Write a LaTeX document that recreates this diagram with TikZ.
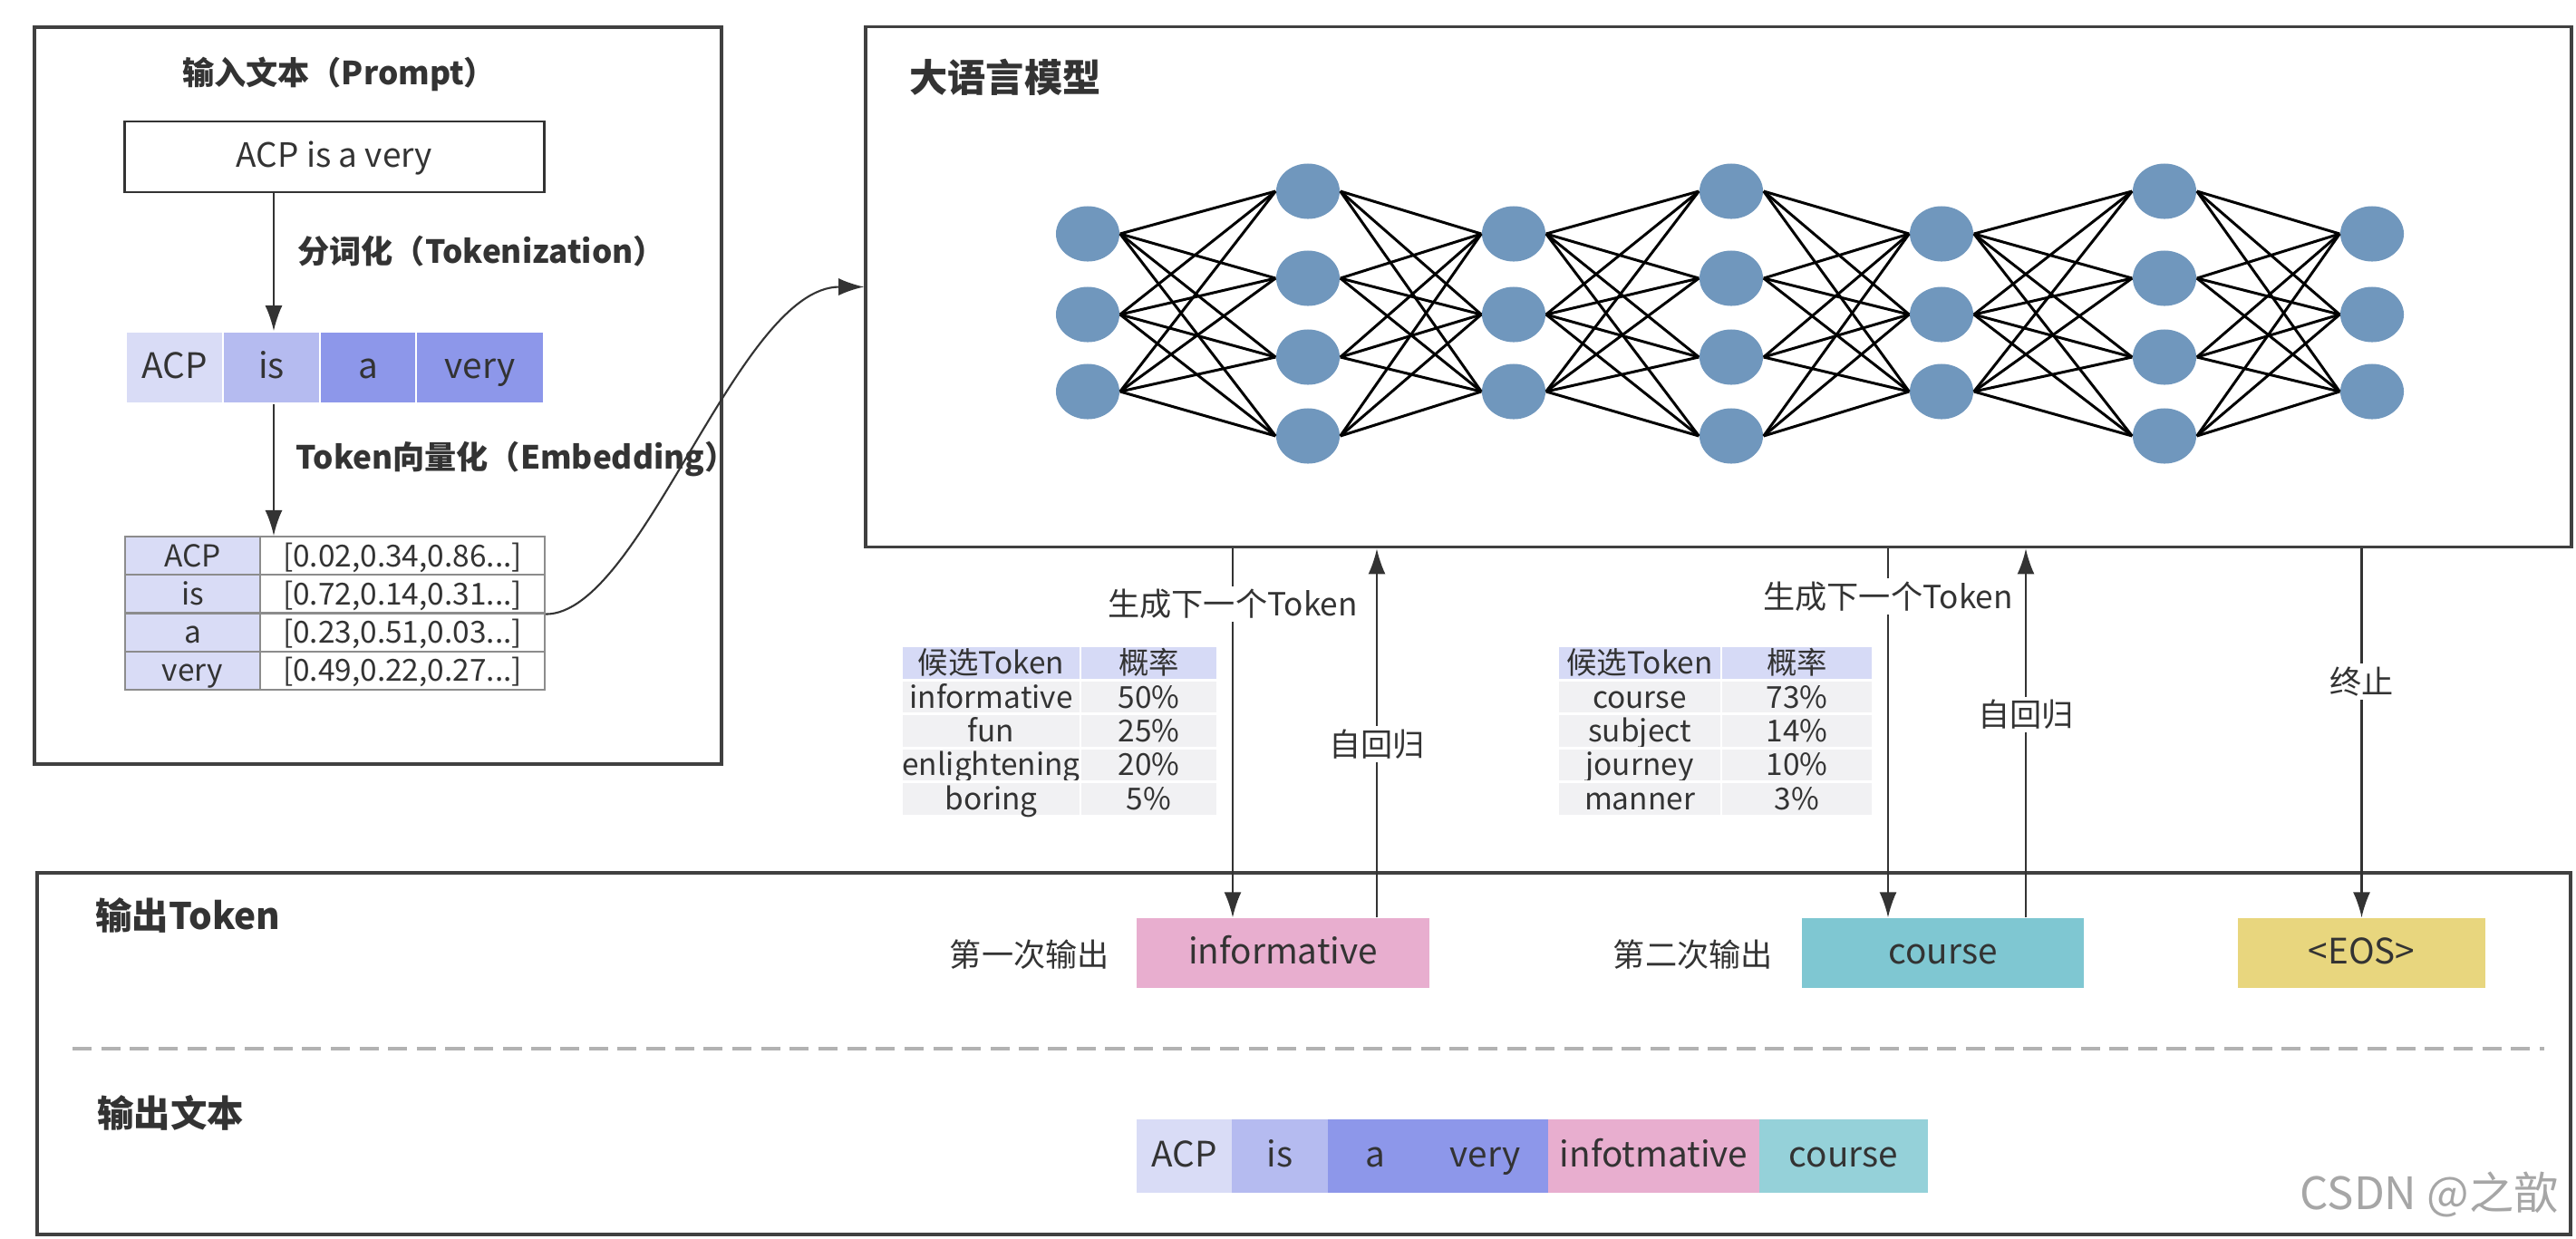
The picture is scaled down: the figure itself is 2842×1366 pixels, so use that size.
\documentclass[tikz,border=0pt]{standalone}
\usepackage{fontspec}
\setmainfont{Noto Sans CJK SC}
\usetikzlibrary{arrows.meta, shapes.geometric}
\definecolor{tokA}{HTML}{D9DCF6}
\definecolor{tokB}{HTML}{B5BBF0}
\definecolor{tokC}{HTML}{8D97EA}
\definecolor{pinkout}{HTML}{E8AECF}
\definecolor{tealout}{HTML}{7FC7D2}
\definecolor{teallight}{HTML}{95D1D9}
\definecolor{yellowout}{HTML}{E8D67E}
\definecolor{neuronblue}{HTML}{7097BD}
\definecolor{hdr}{HTML}{D6DAF6}
\definecolor{rowgray}{HTML}{F1F1F3}
\definecolor{txt}{HTML}{333333}
\tikzset{
  box/.style = {draw=black!75, line width=1pt},
  cell/.style = {inner sep=0pt, text=txt, text height=0.84em, text depth=0.16em, font=\fontsize{10.5}{12}\selectfont},
  ecell/.style = {cell, draw=black!45, line width=0.6pt, minimum height=0.4225cm, font=\fontsize{9.5}{11}\selectfont},
  tcell/.style = {cell, draw=white, line width=0.8pt, minimum height=0.374cm, font=\fontsize{9.5}{11}\selectfont},
  arr/.style = {-{Latex[length=0.28cm, width=0.19cm]}, line width=0.6pt, black!80},
  lab/.style = {fill=white, inner sep=1pt, text=txt, font=\fontsize{10}{12}\selectfont},
  title/.style = {text=txt, font=\fontsize{11.5}{13}\selectfont\bfseries},
  neuron/.style = {ellipse, fill=neuronblue, minimum width=0.70cm, minimum height=0.61cm, inner sep=0pt},
  edge/.style = {line width=0.85pt, black}
}
\begin{document}
\begin{tikzpicture}[x=0.01cm, y=-0.01cm]
\useasboundingbox[fill=white] (0,0) rectangle (2842,1366);

\draw[box] (38,30) rectangle (796,843);
\node[title, font=\fontsize{10}{12}\selectfont\bfseries] (intitle) at (374,82) {输入文本（Prompt）};
\node[cell, draw=black!80, line width=0.8pt, minimum width=4.62cm, minimum height=0.78cm] (prompt) at (369,173) {ACP is a very};
\foreach \x/\w/\c/\t [count=\i] in {192.5/1.07/tokA/ACP, 299.5/1.07/tokB/is, 406/1.06/tokC/a, 529.5/1.41/tokC/very}
  \node[cell, fill=\c, draw=white, line width=0.5pt, minimum width=\w cm, minimum height=0.79cm, font=\fontsize{11}{13}\selectfont] (t\i) at (\x,405.5) {\t};
\foreach \k/\v [count=\i] in {ACP/{[0.02,0.34,0.86...]}, is/{[0.72,0.14,0.31...]}, a/{[0.23,0.51,0.03...]}, very/{[0.49,0.22,0.27...]}} {
  \node[ecell, fill=tokA, minimum width=1.49cm] (k\i) at (212.5,{592+42.25*(\i-0.5)}) {\k};
  \node[ecell, fill=white, minimum width=3.14cm] (v\i) at (444,{592+42.25*(\i-0.5)}) {\v};
}
\coordinate (ax) at (302,0);
\draw[arr] (prompt.south -| ax) -- (t2.north -| ax);
\draw[arr] (t2.south -| ax) -- (v1.north -| ax);
\node[title, font=\fontsize{10}{12}\selectfont\bfseries, anchor=west] (tokz) at (316,277) {分词化（Tokenization）};
\node[title, font=\fontsize{10}{12}\selectfont\bfseries, anchor=west] (embd) at (314,507) {Token向量化（Embedding）};

\node[box, minimum width=18.81cm, minimum height=5.74cm, inner sep=0pt] (llm) at (1896,316.5) {};
\node[title, font=\fontsize{12}{14}\selectfont\bfseries, anchor=west] (llmtitle) at (991,85) {大语言模型};
\draw[arr] (v2.south east) .. controls +(106,0) and +(-139,0) .. (llm.west);

\foreach \x [count=\i] in {1200,1670,2142,2617}
  \foreach \y [count=\j] in {258,347,432}
    \node[neuron] (a\i-\j) at (\x,\y) {};
\foreach \x [count=\i] in {1443,1910,2388}
  \foreach \y [count=\j] in {211,307,394,481}
    \node[neuron] (b\i-\j) at (\x,\y) {};
\foreach \i [evaluate=\i as \n using int(\i+1)] in {1,2,3}
  \foreach \j in {1,2,3}
    \foreach \k in {1,...,4} {
      \draw[edge] (a\i-\j.east) -- (b\i-\k.west);
      \draw[edge] (b\i-\k.east) -- (a\n-\j.west);
    }

\draw[box] (41,963) rectangle (2836,1362);
\node[title, anchor=west] (outtok) at (93,1010) {输出Token};
\node[title, anchor=west] (outtxt) at (95,1228) {输出文本};
\draw[black!30, line width=1.2pt, dash pattern=on 6pt off 3pt] (80,1157) -- (2807,1157);
\node[cell, fill=pinkout, minimum width=3.23cm, minimum height=0.77cm, font=\fontsize{11}{13}\selectfont] (out1) at (1415.5,1051.5) {informative};
\node[cell, fill=tealout, minimum width=3.11cm, minimum height=0.77cm, font=\fontsize{11}{13}\selectfont] (out2) at (2143.5,1051.5) {course};
\node[cell, fill=yellowout, minimum width=2.73cm, minimum height=0.77cm, font=\fontsize{11}{13}\selectfont] (out3) at (2605.5,1051.5) {<EOS>};
\node[lab, anchor=east] (first) at (1228,1053) {第一次输出};
\node[lab, anchor=east] (second) at (1960,1053) {第二次输出};

\coordinate (g1) at (1360,0);
\coordinate (r1) at (1519,0);
\coordinate (g2) at (2083,0);
\coordinate (r2) at (2235,0);
\draw[arr] (llm.south -| g1) -- node[lab, pos=0.15] (gen1) {生成下一个Token} (out1.north -| g1);
\draw[arr] (out1.north -| r1) -- node[lab, pos=0.47] (back1) {自回归} (llm.south -| r1);
\draw[arr] (llm.south -| g2) -- node[lab, pos=0.13] (gen2) {生成下一个Token} (out2.north -| g2);
\draw[arr] (out2.north -| r2) -- node[lab, pos=0.55] (back2) {自回归} (llm.south -| r2);
\draw[arr] (llm.south -| out3) -- node[lab, pos=0.36] (stop) {终止} (out3.north);

\foreach \a/\b/\c [count=\r from 0] in {候选Token/概率/hdr, informative/50\%/rowgray, fun/25\%/rowgray, enlightening/20\%/rowgray, boring/5\%/rowgray} {
  \node[tcell, fill=\c, minimum width=1.97cm] (pa\r) at (1093.5,{713+37.4*(\r+0.5)}) {\a};
  \node[tcell, fill=\c, minimum width=1.51cm] (qa\r) at (1267.5,{713+37.4*(\r+0.5)}) {\b};
}
\foreach \a/\b/\c [count=\r from 0] in {候选Token/概率/hdr, course/73\%/rowgray, subject/14\%/rowgray, journey/10\%/rowgray, manner/3\%/rowgray} {
  \node[tcell, fill=\c, minimum width=1.80cm] (pb\r) at (1809,{713+37.4*(\r+0.5)}) {\a};
  \node[tcell, fill=\c, minimum width=1.67cm] (qb\r) at (1982.5,{713+37.4*(\r+0.5)}) {\b};
}

\foreach \x/\w/\c/\t [count=\i] in {1306.5/1.05/tokA/ACP, 1412/1.06/tokB/is, 1517/1.04/tokC/a, 1638.5/1.39/tokC/very, 1824.5/2.33/pinkout/infotmative, 2034/1.86/teallight/course}
  \node[cell, fill=\c, minimum width=\w cm, minimum height=0.81cm, font=\fontsize{11}{13}\selectfont] (w\i) at (\x,1275.5) {\t};
\node[text=black!35, font=\fontsize{14}{16}\selectfont] (mark) at (2680,1318) {CSDN @之歆};
\end{tikzpicture}
\end{document}
